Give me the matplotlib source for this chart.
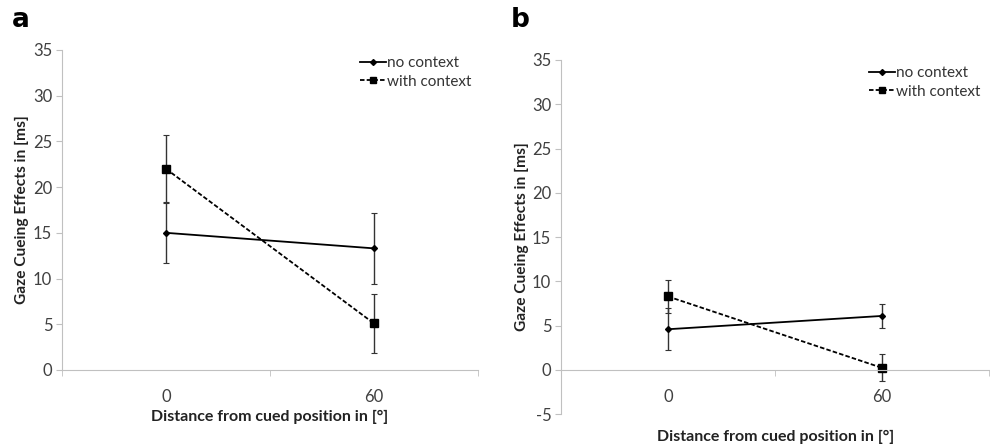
import matplotlib
matplotlib.use('Agg')
import matplotlib.pyplot as plt
from matplotlib.ticker import FixedLocator
from matplotlib.lines import Line2D

plt.rcParams['font.family'] = ['Lato', 'DejaVu Sans']
plt.rcParams['axes.unicode_minus'] = False

categories = ['0', '60']

# panel a
a_no_ctx = [15.0, 13.3]
a_no_ctx_err = [3.35, 3.9]
a_with_ctx = [22.0, 5.1]
a_with_ctx_err = [3.7, 3.2]

# panel b
b_no_ctx = [4.6, 6.1]
b_no_ctx_err = [2.4, 1.4]
b_with_ctx = [8.3, 0.25]
b_with_ctx_err = [1.9, 1.5]

AXIS_GREY = '#c0c0c0'
TEXT_GREY = '#404040'
DASH = (0, (2.5, 1.2))


def draw_panel(ax, no_ctx, no_err, with_ctx, with_err, ylim, legend_anchor):
	x = [0.5, 1.5]
	ax.errorbar(x, no_ctx, yerr=no_err, color='black', lw=1.3, marker='D', ms=3,
				ecolor='#333333', elinewidth=1, capsize=2.5, capthick=0.8)
	ax.errorbar(x, with_ctx, yerr=with_err, color='black', lw=1.3, ls=DASH,
				marker='s', ms=6, ecolor='#333333', elinewidth=1, capsize=2.5, capthick=0.8)
	ax.set_xlim(0, 2)
	ax.set_ylim(*ylim)
	ax.set_yticks(range(ylim[0], ylim[1] + 1, 5))
	ax.xaxis.set_major_locator(FixedLocator(x))
	ax.set_xticklabels(categories)
	ax.xaxis.set_minor_locator(FixedLocator([0, 1, 2]))
	ax.tick_params(axis='x', which='major', length=0, pad=14, labelsize=12, labelcolor=TEXT_GREY)
	ax.tick_params(axis='x', which='minor', length=4, color=AXIS_GREY, direction='out')
	ax.tick_params(axis='y', length=4, color=AXIS_GREY, labelsize=12, labelcolor=TEXT_GREY, pad=3)
	for s in ['top', 'right']:
		ax.spines[s].set_visible(False)
	ax.spines['left'].set_color(AXIS_GREY)
	ax.spines['bottom'].set_color(AXIS_GREY)
	ax.spines['bottom'].set_position(('data', 0))
	ax.set_ylabel('Gaze Cueing Effects in [ms]', fontsize=11.2, fontweight='bold', color='#222222')
	handles = [
		Line2D([], [], color='black', lw=1.3, marker='D', ms=3),
		Line2D([], [], color='black', lw=1.3, ls=DASH, marker='s', ms=5),
	]
	leg = ax.legend(handles, ['no context', 'with context'], loc='upper right',
					bbox_to_anchor=legend_anchor, frameon=False, fontsize=11,
					handlelength=1.7, handletextpad=0.1, labelspacing=0.3, borderaxespad=0)
	for t in leg.get_texts():
		t.set_color('#333333')


fig = plt.figure(figsize=(9.9, 4.47), dpi=100)

ax_a = fig.add_axes([0.0626, 0.1723, 0.420, 0.716])
draw_panel(ax_a, a_no_ctx, a_no_ctx_err, a_with_ctx, a_with_ctx_err, (0, 35), (1.0, 1.0))
ax_a.set_xlabel('Distance from cued position in [°]', fontsize=11.5, fontweight='bold',
				color='#222222', labelpad=3)
ax_a.yaxis.set_label_coords(-0.08, 0.5)

ax_b = fig.add_axes([0.5667, 0.0732, 0.432, 0.7927])
draw_panel(ax_b, b_no_ctx, b_no_ctx_err, b_with_ctx, b_with_ctx_err, (-5, 35), (0.995, 1.0))
ax_b.yaxis.set_label_coords(-0.075, 0.5)
fig.text(0.7834, 0.022, 'Distance from cued position in [°]', fontsize=11.5, fontweight='bold',
		 color='#222222', ha='center', va='center')

fig.text(0.012, 0.955, 'a', fontsize=19, fontweight='bold', va='center', family='DejaVu Sans')
fig.text(0.516, 0.955, 'b', fontsize=19, fontweight='bold', va='center', family='DejaVu Sans')

fig.savefig('out.png', dpi=100)
